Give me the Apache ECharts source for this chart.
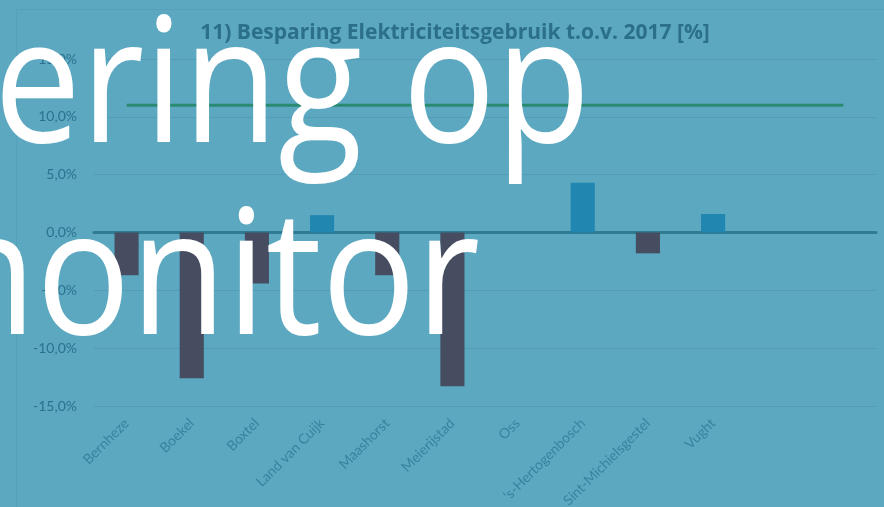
<!DOCTYPE html>
<html>
<head>
<meta charset="utf-8">
<script src="https://cdn.jsdelivr.net/npm/echarts@6/dist/echarts.min.js"></script>
<style>
html,body{margin:0;padding:0;background:#5BA8C0;}
#chart{width:884px;height:507px;}
</style>
</head>
<body>
<div id="chart"></div>
<script>
var titleText = '11) Besparing Elektriciteitsgebruik t.o.v. 2017 [%]';
var categories = ['Bernheze', 'Boekel', 'Boxtel', 'Land van Cuijk', 'Maashorst', 'Meierijstad', 'Oss', "'s-Hertogenbosch", 'Sint-Michielsgestel', 'Vught', '', ''];
var savings = [-3.7, -12.6, -4.4, 1.5, -3.7, -13.3, 0, 4.3, -1.8, 1.6, null, null];
var targetLine = [11, 11, 11, 11, 11, 11, 11, 11, 11, 11, 11, 11];
var yTicks = { min: -15, max: 15, interval: 5 };
var overlayLines = ['ering op', 'monitor'];

var chart = echarts.init(document.getElementById('chart'));
chart.setOption({
  backgroundColor: '#5BA8C0',
  animation: false,
  title: {
    text: titleText,
    left: 450,
    textAlign: 'center',
    top: 18,
    textStyle: { fontFamily: 'Open Sans', fontWeight: 'bold', fontSize: 21, color: '#2C6F8A' }
  },
  grid: { left: 94, right: 8, top: 59, bottom: 101, containLabel: false, outerBoundsMode: 'none' },
  xAxis: {
    type: 'category',
    data: categories,
    axisTick: { show: false },
    axisLine: { onZero: true, lineStyle: { color: '#2F7B92', width: 3 } },
    axisLabel: {
      rotate: 45, interval: 0, margin: 15,
      fontFamily: 'Lato', fontSize: 14, color: '#38829F'
    },
    position: 'bottom'
  },
  yAxis: {
    type: 'value',
    min: yTicks.min, max: yTicks.max, interval: yTicks.interval,
    axisLine: { show: false },
    axisTick: { show: false },
    splitLine: { lineStyle: { color: '#539CB5', width: 1 } },
    axisLabel: {
      margin: 17, fontFamily: 'Lato', fontSize: 14, color: '#2C7290',
      formatter: function (v) { return v.toFixed(1).replace('.', ',') + '%'; }
    }
  },
  series: [
    {
      type: 'bar',
      data: savings,
      barWidth: '37%',
      itemStyle: {
        color: function (p) { return p.value < 0 ? '#464D60' : '#2186B0'; }
      },
      z: 2
    },
    {
      type: 'line',
      data: targetLine,
      symbol: 'none',
      lineStyle: { color: '#2A8B72', width: 3 },
      z: 3
    }
  ],
  graphic: [
    {
      type: 'rect', z: 0, silent: true,
      shape: { x: 16.5, y: 9.5, width: 900, height: 600 },
      style: { fill: 'none', stroke: '#55A1BA', lineWidth: 1 }
    },
    {
      type: 'text', z: 100, x: -6, y: 92, scaleX: 0.89,
      style: {
        text: overlayLines[0], x: 0, y: 0, textAlign: 'left', textVerticalAlign: 'middle',
        font: '174px "Open Sans"', fill: '#FFFFFF',
        shadowColor: 'rgba(0,0,0,0.4)', shadowBlur: 5, shadowOffsetX: 3, shadowOffsetY: 3
      }
    },
    {
      type: 'text', z: 100, x: 480, y: 284, scaleX: 0.9,
      style: {
        text: overlayLines[1], x: 0, y: 0, textAlign: 'right', textVerticalAlign: 'middle',
        font: '174px "Open Sans"', fill: '#FFFFFF',
        shadowColor: 'rgba(0,0,0,0.4)', shadowBlur: 5, shadowOffsetX: 3, shadowOffsetY: 3
      }
    }
  ]
});
</script>
</body>
</html>
